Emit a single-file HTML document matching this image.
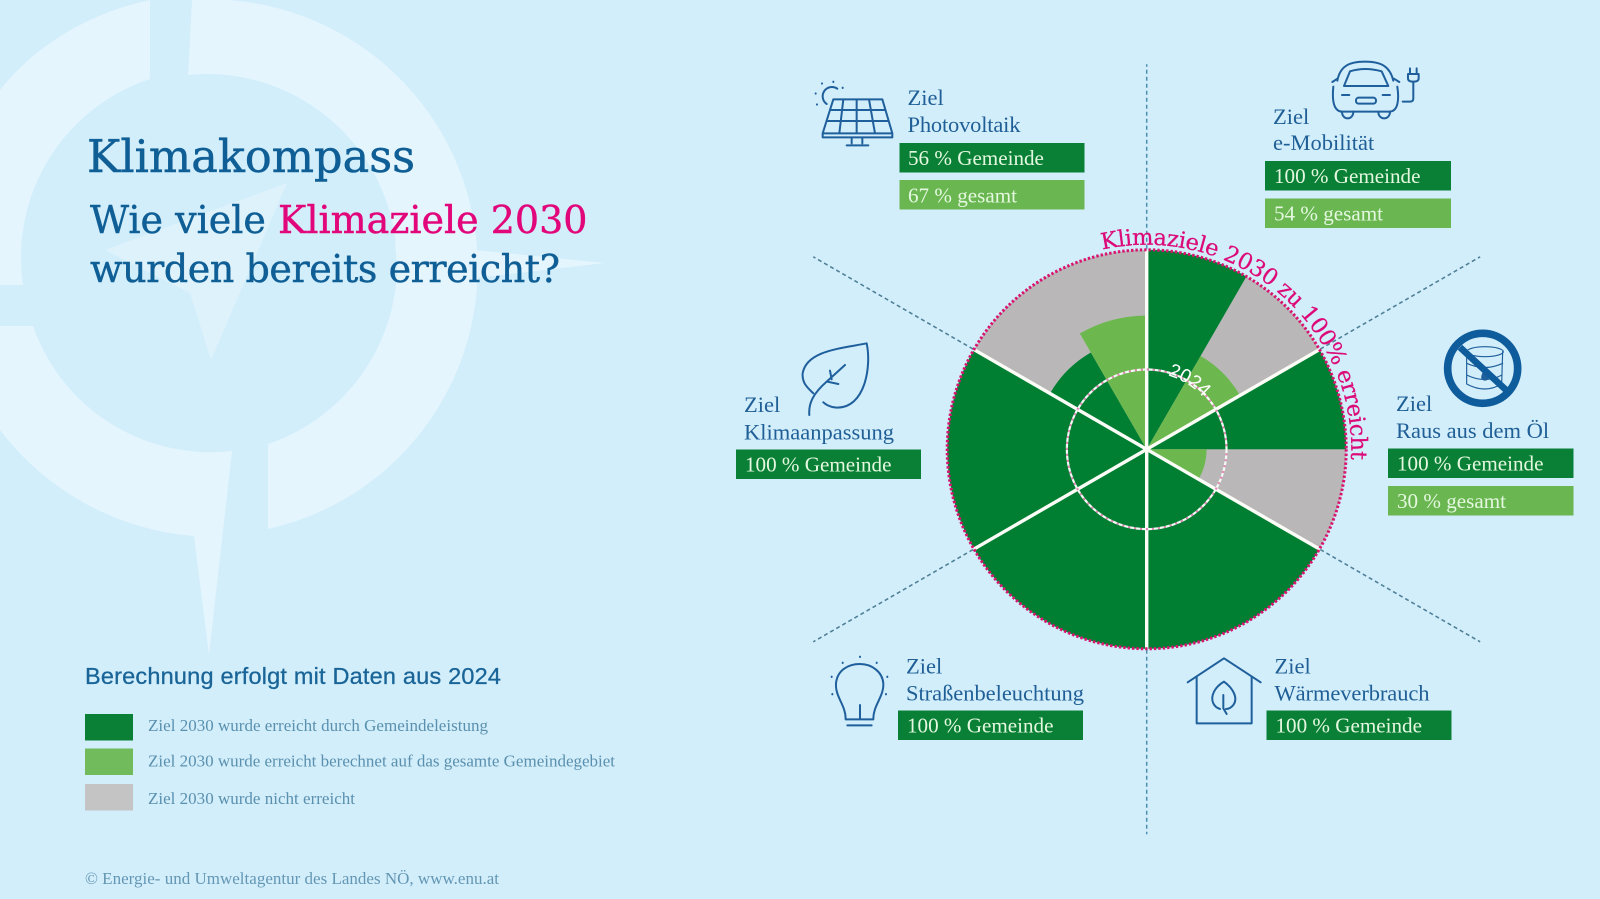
<!DOCTYPE html>
<html lang="de">
<head>
<meta charset="utf-8">
<title>Klimakompass</title>
<style>
html,body{margin:0;padding:0;background:#d2eefb;}
svg{display:block;}
.serif{font-family:"Liberation Serif",serif;}
.slab{font-family:"DejaVu Serif",serif;}
.sans{font-family:"Liberation Sans",sans-serif;}
.goal{font-family:"Liberation Serif",serif;font-size:22.5px;fill:#1f5f96;}
.val{font-family:"Liberation Serif",serif;font-size:21.1px;fill:#e4f8e0;}
.leg{font-family:"Liberation Serif",serif;font-size:17px;fill:#5a90ae;}
.ic{fill:none;stroke:#1f5f9c;stroke-width:6;stroke-linecap:round;stroke-linejoin:round;}
.dark{fill:#0a8036;}
.light{fill:#6ab650;}
</style>
</head>
<body>
<svg id="page" xmlns="http://www.w3.org/2000/svg" width="1600" height="899" viewBox="0 0 1600 899">
  <rect width="1600" height="899" fill="#d2eefb"/>

  <g fill="#e4f5fd">
    <path d="M150 0 L150 79 A188 188 0 0 0 23 285 L0 285 L0 90 C40 40 95 12 150 0 Z"/>
    <path d="M192 0 A268 268 0 0 1 268 529 L268 451 L268 444 A190 190 0 0 0 188 75 Z"/>
    <path d="M0 326 L33 326 A188 188 0 0 0 232 451 L209 655 L194 536 A270 270 0 0 1 0 430 Z"/>
    <path d="M287 183 L105 250 L190 293 L211 360 Z" fill="#def2fb"/>
    <path d="M395 242 L605 263 L399 287 Z" fill="#e4f5fd"/>
  </g>

  <text class="slab" x="87" y="172" font-size="44.6" fill="#0f5f96" stroke="#0f5f96" stroke-width=".5" textLength="328">Klimakompass</text>
  <text class="slab" x="90" y="233" font-size="38" fill="#0f5f96" stroke="#0f5f96" stroke-width=".45">Wie viele <tspan fill="#e2067b" stroke="#e2067b">Klimaziele 2030</tspan></text>
  <text class="slab" x="90" y="282" font-size="38" fill="#0f5f96" stroke="#0f5f96" stroke-width=".45" textLength="470">wurden bereits erreicht?</text>

  <text class="sans" x="85" y="684" font-size="23.5" fill="#1a6598" stroke="#1a6598" stroke-width=".3" textLength="416">Berechnung erfolgt mit Daten aus 2024</text>
  <rect x="85" y="714" width="48" height="26.5" fill="#0a8036"/>
  <text class="leg" x="148" y="731" textLength="340">Ziel 2030 wurde erreicht durch Gemeindeleistung</text>
  <rect x="85" y="748.5" width="48" height="26.5" fill="#72bb5c"/>
  <text class="leg" x="148" y="766.5" textLength="467">Ziel 2030 wurde erreicht berechnet auf das gesamte Gemeindegebiet</text>
  <rect x="85" y="784" width="48" height="26.5" fill="#c4c4c4"/>
  <text class="leg" x="148" y="804" textLength="207">Ziel 2030 wurde nicht erreicht</text>
  <text class="leg" x="85" y="884" textLength="414" style="fill:#6497b4">© Energie- und Umweltagentur des Landes NÖ, www.enu.at</text>

  <g id="chart"></g>

  <path id="arcTitlePath" fill="none" d=""/>
  <text class="slab" font-size="22.5" fill="#dc0a78" stroke="#dc0a78" stroke-width=".25"><textPath id="arcTitle" href="#arcTitlePath" textLength="376" lengthAdjust="spacing">Klimaziele 2030 zu 100% erreicht</textPath></text>
  <path id="ringLabelPath" fill="none" d=""/>
  <text class="sans" font-size="19" fill="#ffffff"><textPath href="#ringLabelPath">2024</textPath></text>

  <!-- Photovoltaik -->
  <g>
    <g class="ic" transform="translate(800 60) scale(.3333)">
      <path d="M100 118 L247 118 L277 220 L277 232 L68 232 L68 220 Z M68 220 L277 220 M92 150 L256 150 M80 183 L265 183 M130 118 L118 220 M170 118 L170 220 M207 118 L225 220 M155 232 L155 250 M187 232 L187 250 M140 256 L205 256"/>
      <path d="M80 132 A24 24 0 0 1 112 86"/>
      <path d="M66 70 L66 71 M100 65 L100 66 M128 83 L128 84 M47 100 L47 101 M51 133 L51 134"/>
    </g>
    <text class="goal" x="907.5" y="105">Ziel</text>
    <text class="goal" x="907.5" y="132" textLength="113">Photovoltaik</text>
    <rect class="dark" x="899.5" y="143" width="185" height="29.5"/>
    <text class="val" x="908" y="165">56 % Gemeinde</text>
    <rect class="light" x="899.5" y="180" width="185" height="29.5"/>
    <text class="val" x="908" y="202.5">67 % gesamt</text>
  </g>

  <!-- e-Mobilitaet -->
  <g>
    <g class="ic" transform="translate(1250 50) scale(.3333)">
      <path d="M262 92 C270 50 295 35 345 35 C395 35 420 50 430 92"/>
      <path d="M282 108 L300 64 Q345 50 395 64 L415 108 Z"/>
      <path d="M250 110 C246 150 250 185 278 185 L418 185 C444 185 448 150 442 110"/>
      <path d="M276 185 C276 212 310 212 310 185 M385 185 C385 212 420 212 420 185"/>
      <path d="M276 135 L298 135 M398 135 L420 135"/>
      <rect x="318" y="143" width="60" height="18" rx="8"/>
      <path d="M247 96 L262 86 M432 86 L448 96"/>
      <path d="M458 155 L480 155 Q490 155 490 145 L490 95 M474 72 L506 72 L506 85 Q506 95 490 95 Q474 95 474 85 Z M480 55 L480 68 M500 55 L500 68"/>
    </g>
    <text class="goal" x="1273" y="124">Ziel</text>
    <text class="goal" x="1273" y="150">e-Mobilität</text>
    <rect class="dark" x="1265" y="161" width="186" height="29.5"/>
    <text class="val" x="1274" y="183">100 % Gemeinde</text>
    <rect class="light" x="1265" y="198.5" width="186" height="29.5"/>
    <text class="val" x="1274" y="220.5">54 % gesamt</text>
  </g>

  <!-- Raus aus dem Oel -->
  <g>
    <g transform="translate(1370 320) scale(.3333)">
      <g class="ic" style="stroke-width:3.5">
        <ellipse cx="345" cy="95" rx="55" ry="15"/>
        <path d="M290 95 L290 192 Q345 222 395 192 L398 95 M290 130 Q345 155 398 130 M290 165 Q345 192 396 165"/>
      </g>
      <path d="M345 145 C358 165 362 180 345 182 C328 180 332 165 345 145 Z" fill="#1f5f9c"/>
      <circle cx="338" cy="145" r="105" fill="none" stroke="#0f5c9c" stroke-width="23"/>
      <path d="M270 82 L408 210" fill="none" stroke="#0f5c9c" stroke-width="20"/>
    </g>
    <text class="goal" x="1396" y="411">Ziel</text>
    <text class="goal" x="1396" y="438">Raus aus dem Öl</text>
    <rect class="dark" x="1388" y="448.5" width="185.5" height="29.5"/>
    <text class="val" x="1397" y="470.5">100 % Gemeinde</text>
    <rect class="light" x="1388" y="486" width="185.5" height="29.5"/>
    <text class="val" x="1397" y="508">30 % gesamt</text>
  </g>

  <!-- Klimaanpassung -->
  <g>
    <g class="ic" transform="translate(730 330) scale(.3333)">
      <path d="M250 190 C235 175 215 160 218 130 C230 60 340 55 410 40 C425 110 405 235 320 233 C300 232 285 222 280 217"/>
      <path d="M238 255 C235 220 250 190 290 155 L345 105 M300 122 L305 148 M292 155 L325 162"/>
    </g>
    <text class="goal" x="744" y="412">Ziel</text>
    <text class="goal" x="744" y="439.5" textLength="150">Klimaanpassung</text>
    <rect class="dark" x="736" y="449.5" width="185" height="29.5"/>
    <text class="val" x="745" y="471.5">100 % Gemeinde</text>
  </g>

  <!-- Strassenbeleuchtung -->
  <g>
    <g class="ic" transform="translate(810 640) scale(.3333)">
      <path d="M107 236 C107 195 75 170 78 130 C82 90 115 72 150 72 C185 72 217 95 220 130 C222 170 190 195 190 236"/>
      <path d="M107 238 L190 238 M112 256 L185 256 M150 195 L150 238"/>
      <path d="M150 50 L150 51 M98 68 L98 69 M200 68 L200 69 M65 110 L65 111 M232 110 L232 111 M67 162 L67 163 M228 162 L228 163"/>
    </g>
    <text class="goal" x="906" y="673.5">Ziel</text>
    <text class="goal" x="906" y="700.5" textLength="178">Straßenbeleuchtung</text>
    <rect class="dark" x="898" y="710.5" width="185" height="29.5"/>
    <text class="val" x="907" y="732.5">100 % Gemeinde</text>
  </g>

  <!-- Waermeverbrauch -->
  <g>
    <g class="ic" transform="translate(1170 640) scale(.3333)">
      <path d="M53 127 L162 55 L272 127 M80 110 L80 250 L245 250 L245 110"/>
      <path d="M162 125 C190 145 205 175 190 195 C182 205 172 207 168 207 M150 207 C130 200 120 180 132 155 C140 140 150 132 162 125"/>
      <path d="M160 165 L160 205 L170 222"/>
    </g>
    <text class="goal" x="1274.5" y="673.5">Ziel</text>
    <text class="goal" x="1274.5" y="700.5" textLength="155">Wärmeverbrauch</text>
    <rect class="dark" x="1266.5" y="710.5" width="185" height="29.5"/>
    <text class="val" x="1275.5" y="732.5">100 % Gemeinde</text>
  </g>
</svg>

<script>
var goals = ["e-Mobilität", "Raus aus dem Öl", "Wärmeverbrauch", "Straßenbeleuchtung", "Klimaanpassung", "Photovoltaik"];
var gemeindeValues = [100, 100, 100, 100, 100, 56];
var gesamtValues = [54, 30, null, null, null, 67];
var ringTargetValue = 100;
var ringCurrentValue = 40;

var NS = "http://www.w3.org/2000/svg";
var cx = 1146.7, cy = 449.3, outerR = 199.5, guideR = 385;
var chart = document.getElementById("chart");

function radius(v) { return outerR * v / ringTargetValue; }
function sectorAngle(i) { return i * 360 / goals.length; }
function pt(r, deg) {
  var a = deg * Math.PI / 180;
  return [cx + r * Math.sin(a), cy - r * Math.cos(a)];
}
function wedgePath(r, a0, a1) {
  var p0 = pt(r, a0), p1 = pt(r, a1);
  return "M" + cx + " " + cy + " L" + p0[0] + " " + p0[1] + " A" + r + " " + r + " 0 0 1 " + p1[0] + " " + p1[1] + " Z";
}
function arcPath(r, a0, a1) {
  var p0 = pt(r, a0), p1 = pt(r, a1);
  return "M" + p0[0] + " " + p0[1] + " A" + r + " " + r + " 0 0 1 " + p1[0] + " " + p1[1];
}
function make(tag, attrs) {
  var el = document.createElementNS(NS, tag);
  for (var k in attrs) { el.setAttribute(k, attrs[k]); }
  chart.appendChild(el);
  return el;
}

var base = make("circle", { cx: cx, cy: cy, r: outerR, fill: "#b9b7b8" });



goals.forEach(function (goal, i) {
  var a0 = sectorAngle(i), a1 = sectorAngle(i + 1), mid = (a0 + a1) / 2;
  var hasGesamt = gesamtValues[i] !== null;
  var darkWedge = make("path", { d: wedgePath(radius(gemeindeValues[i]), a0, hasGesamt ? mid : a1), fill: "#007f33" });
  
  
  if (hasGesamt) {
    var lightWedge = make("path", { d: wedgePath(radius(gesamtValues[i]), mid, a1), fill: "#6cb84f" });
    
    
  }
});

goals.forEach(function (goal, i) {
  var a = sectorAngle(i);
  var g0 = pt(outerR + 1, a), g1 = pt(guideR, a);
  var guide = make("line", { x1: g0[0], y1: g0[1], x2: g1[0], y2: g1[1], stroke: a % 180 === 0 ? "#4d8fb0" : "#4f7f96", "stroke-width": 1.5, "stroke-dasharray": "4 3" });
  
  
  var sp = pt(outerR, a);
  var spoke = make("line", { x1: cx, y1: cy, x2: sp[0], y2: sp[1], stroke: "#fdfdf8", "stroke-width": 3.4 });
  
  
});

var outerRing = make("circle", { cx: cx, cy: cy, r: outerR, fill: "none", stroke: "#d9146f", "stroke-width": 3, "stroke-dasharray": "2.4 2" });



var innerWhite = make("circle", { cx: cx, cy: cy, r: radius(ringCurrentValue), fill: "none", stroke: "#f4fbf4", "stroke-width": 2.2, "stroke-dasharray": "4 2" });


var innerPink = make("circle", { cx: cx, cy: cy, r: radius(ringCurrentValue), fill: "none", stroke: "#e58ab8", "stroke-width": 2.2, "stroke-dasharray": "2 4", "stroke-dashoffset": "-4" });



document.getElementById("arcTitlePath").setAttribute("d", arcPath(outerR + 5, -12.5, 96));
document.getElementById("ringLabelPath").setAttribute("d", arcPath(radius(ringCurrentValue) - 3, 16, 60));
</script>
</body>
</html>
